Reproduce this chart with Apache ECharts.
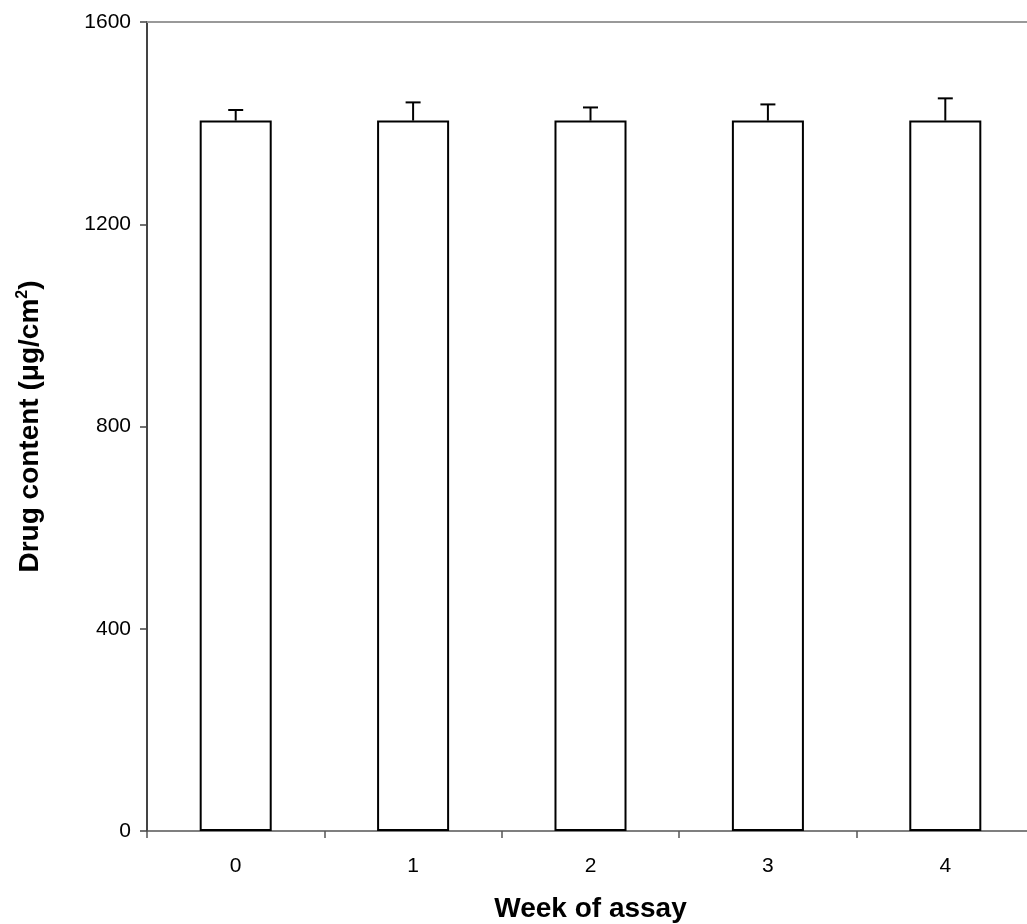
<!DOCTYPE html>
<html>
<head>
<meta charset="utf-8">
<script src="https://cdn.jsdelivr.net/npm/echarts@6/dist/echarts.min.js"></script>
<style>html,body{margin:0;padding:0;background:#fff;}#c{width:1027px;height:924px;}</style>
</head>
<body>
<div id="c"></div>
<script>
var weeks = ['0', '1', '2', '3', '4'];
var drugContent = [1405, 1405, 1405, 1405, 1405];
var errorUp = [21, 36, 26, 32, 44];
var yTicks = [0, 400, 800, 1200, 1600];

var chart = echarts.init(document.getElementById('c'));
var errData = weeks.map(function (w, i) { return [i, drugContent[i], drugContent[i] + errorUp[i]]; });
var font = '"Liberation Sans", Arial, sans-serif';

chart.setOption({
  animation: false,
  backgroundColor: '#ffffff',
  grid: { left: 147, width: 887, top: 22, bottom: 93, containLabel: false, outerBoundsMode: 'none' },
  xAxis: [{
    type: 'category',
    data: weeks,
    boundaryGap: true,
    axisLine: { show: true, lineStyle: { color: '#555555', width: 1.5 } },
    axisTick: { show: true, length: 7, lineStyle: { color: '#555555', width: 1.5 } },
    axisLabel: { color: '#000', fontSize: 21, fontFamily: font, margin: 25 },
    name: 'Week of assay',
    nameLocation: 'middle',
    nameGap: 64,
    nameTextStyle: { color: '#000', fontSize: 28, fontWeight: 'bold', fontFamily: font }
  }, {
    type: 'category',
    data: weeks,
    position: 'top',
    axisLine: { show: true, lineStyle: { color: '#999999', width: 2 } },
    axisTick: { show: false },
    axisLabel: { show: false }
  }],
  yAxis: {
    type: 'value',
    min: 0,
    max: 1600,
    interval: 400,
    splitLine: { show: false },
    axisLine: { show: true, lineStyle: { color: '#444444', width: 2 } },
    axisTick: { show: true, length: 7, lineStyle: { color: '#444444', width: 1.5 } },
    axisLabel: {
      color: '#000', fontSize: 21, fontFamily: font, margin: 16,
      formatter: function (v) { return yTicks.indexOf(v) >= 0 ? String(v) : ''; }
    },
    name: '{a|Drug content (\u03bcg/cm}{s|2}{a|)}',
    nameLocation: 'middle',
    nameGap: 102,
    nameRotate: 90,
    nameTextStyle: {
      rich: {
        a: { color: '#000', fontSize: 28, fontWeight: 'bold', fontFamily: font },
        s: { color: '#000', fontSize: 16, fontWeight: 'bold', fontFamily: font, verticalAlign: 'top', padding: [0, 0, 14, 0] }
      }
    }
  },
  series: [{
    type: 'bar',
    data: drugContent,
    barWidth: '40.6%',
    itemStyle: { color: '#ffffff', borderColor: '#000000', borderWidth: 2 },
    z: 2
  }, {
    type: 'custom',
    data: errData,
    z: 3,
    renderItem: function (params, api) {
      var x = api.value(0);
      var base = api.coord([x, api.value(1)]);
      var top = api.coord([x, api.value(2)]);
      var half = 7.5;
      return {
        type: 'group',
        children: [
          { type: 'line', shape: { x1: base[0], y1: base[1], x2: top[0], y2: top[1] }, style: { stroke: '#000', lineWidth: 2 } },
          { type: 'line', shape: { x1: top[0] - half, y1: top[1], x2: top[0] + half, y2: top[1] }, style: { stroke: '#000', lineWidth: 2 } }
        ]
      };
    }
  }]
});
</script>
</body>
</html>
